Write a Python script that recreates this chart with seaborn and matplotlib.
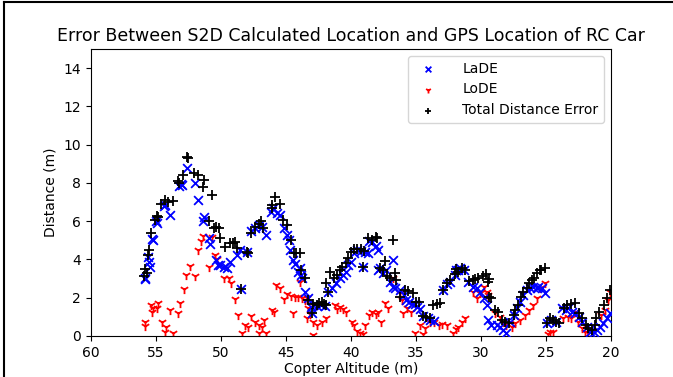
import matplotlib
matplotlib.use("Agg")
import matplotlib.pyplot as plt
from matplotlib.lines import Line2D
import seaborn as sns
import pandas as pd

# ---- data ----
lade_alt = [55.85, 55.8, 55.6, 55.5, 55.45, 55.3, 55.2, 55.0, 54.9, 54.4, 54.3, 53.9, 53.2, 53.1, 53.0,
            52.6, 52.0, 51.75, 51.3, 51.35, 50.9, 50.85, 50.4, 50.2, 50.1, 49.8, 49.55, 49.3, 48.8, 48.5,
            48.45, 48.0, 47.65, 47.4, 47.1, 46.85, 46.5, 46.15, 46.0, 45.7, 45.45, 45.15, 44.95, 44.75,
            44.7, 44.45, 44.3, 44.05, 43.9, 43.85, 43.8, 43.5, 43.3, 43.1, 42.9, 42.6, 42.3, 42.0, 43.0,
            41.75, 41.45, 41.15, 40.85, 40.6, 40.4, 40.2, 40.0, 39.75, 39.5, 39.2, 38.9, 38.7, 39.05,
            38.65, 38.35, 38.1, 37.95, 37.9, 37.8, 37.5, 37.3, 37.0, 36.75, 36.8, 36.6, 36.2, 35.9, 35.8,
            35.55, 35.3, 35.05, 34.9, 34.7, 34.45, 34.1, 33.9, 33.6, 32.9, 32.65, 32.4, 32.0, 31.75,
            31.9, 31.6, 31.3, 31.0, 30.6, 30.3, 30.1, 29.8, 29.55, 29.45, 29.2, 28.8, 28.55, 28.3, 28.05,
            27.8, 27.5, 27.25, 27.0, 26.75, 26.5, 26.25, 26.0, 25.7, 25.6, 25.35, 25.1, 24.95, 24.6,
            24.25, 23.8, 23.5, 23.3, 23.0, 22.8, 22.5, 22.25, 21.85, 21.6, 21.35, 21.1, 20.85, 20.6,
            20.3, 20.05]
lade_err = [3.05, 2.95, 4.15, 3.89, 3.62, 5.05, 5.02, 6.00, 5.90, 6.80, 6.85, 6.33, 7.85, 7.95, 7.90,
            8.76, 7.98, 7.10, 6.24, 6.03, 5.10, 4.79, 3.97, 3.71, 3.71, 3.62, 3.54, 3.89, 4.23, 4.50,
            2.44, 4.41, 5.46, 5.63, 5.80, 5.72, 5.28, 6.50, 6.67, 6.45, 6.33, 5.63, 5.28, 5.02,
            4.50, 3.97, 3.76, 3.36, 3.54, 3.19, 3.01, 2.32, 2.00, 1.50, 1.62, 1.55, 1.62, 1.58, 1.22,
            2.32, 2.49, 2.75, 3.01, 3.19, 3.36, 3.71, 3.89, 4.32, 4.50, 4.46, 4.41, 4.36, 3.62,
            4.97, 4.90, 4.72, 3.45, 4.50, 3.54, 3.28, 3.45, 2.84, 3.97, 2.58, 2.49, 2.40, 2.14, 1.88,
            1.79, 1.66, 1.66, 1.50, 1.40, 1.06, 0.92, 0.84, 0.80, 2.40, 2.70, 2.84, 3.19, 3.45,
            3.45, 3.54, 3.45, 2.84, 2.58, 2.49, 2.32, 1.97, 1.62, 0.84, 0.58, 0.58, 0.49, 0.31, 0.14,
            0.75, 1.10, 1.45, 1.79, 2.14, 2.40, 2.49, 2.58, 2.49, 2.58, 2.49, 2.23, 0.66, 0.84,
            0.75, 1.45, 1.36, 1.45, 1.27, 1.19, 1.01, 0.75, 0.49, 0.23, 0.19, 0.31, 0.49, 0.66,
            0.92, 1.19]

lode_alt = [55.85, 55.8, 55.4, 55.3, 55.2, 54.95, 54.8, 54.55, 54.3, 54.2, 53.9, 53.7, 53.3, 53.15,
            52.85, 52.65, 52.4, 52.0, 51.75, 51.5, 51.4, 50.9, 50.7, 50.3, 50.45, 49.75, 49.4, 49.2,
            48.9, 48.7, 48.4, 48.15, 47.95, 47.7, 47.4, 47.1, 47.05, 46.85, 46.65, 46.5, 46.1, 45.95,
            45.8, 45.45, 45.15, 44.9, 44.6, 44.45, 44.3, 44.05, 43.9, 43.8, 43.55, 43.4, 43.3, 43.15,
            43.35, 42.9, 42.65, 42.25, 41.9, 42.9, 41.25, 41.1, 40.85, 40.6, 40.35, 39.95, 39.8, 39.55,
            39.3, 39.05, 38.9, 38.65, 38.35, 38.1, 37.9, 37.7, 37.4, 37.15, 36.75, 36.25, 36.1, 36.0,
            35.7, 35.35, 35.1, 34.7, 34.45, 34.3, 33.9, 33.65, 33.25, 33.0, 32.65, 32.15, 31.9, 31.75,
            31.5, 31.2, 30.6, 30.3, 30.1, 29.8, 29.55, 29.45, 28.9, 28.55, 28.3, 28.05, 27.65, 27.4,
            27.0, 26.6, 26.3, 26.0, 25.7, 25.45, 25.1, 24.85, 24.7, 24.45, 23.7, 23.3, 23.05, 22.8,
            22.55, 22.25, 22.0, 21.75, 21.5, 20.75, 20.45, 20.2, 20.05]
lode_err = [0.75, 0.52, 1.62, 1.27, 1.45, 1.45, 1.72, 0.75, 0.23, 0.49, 1.33, 0.17, 1.22, 1.74,
            2.44, 3.19, 3.64, 3.14, 4.50, 4.98, 5.23, 3.59, 5.16, 4.01, 4.23, 3.01, 3.01, 2.75,
            1.91, 1.10, 0.17, 0.58, 0.49, 1.05, 0.75, 0.58, 0.17, 0.49, 0.84, 0.17, 1.36, 1.27,
            2.67, 2.49, 1.91, 2.20, 2.09, 1.22, 2.02, 2.05, 2.84, 2.00, 1.88, 1.97, 1.45, 1.13,
            0.96, 0.75, 0.58, 0.75, 0.92, 0.05, 1.62, 1.41, 1.53, 1.41, 1.24, 0.75, 0.58, 0.26,
            0.14, 0.09, 0.58, 1.10, 1.24, 1.13, 1.24, 0.75, 1.71, 1.48, 3.01, 2.23, 1.88, 1.19,
            1.45, 1.24, 0.14, 0.58, 0.09, 0.40, 0.75, 0.75, 0.58, 0.62, 0.58, 0.14, 0.37, 0.49,
            0.75, 0.92, 2.32, 1.97, 2.23, 2.58, 2.32, 2.14, 1.19, 1.01, 0.75, 0.58, 0.49, 0.66,
            0.84, 1.10, 1.36, 1.62, 1.97, 2.49, 2.75, 0.09, 0.19, 0.23, 0.92, 1.01, 0.96, 1.24,
            0.75, 0.40, 0.23, 0.14, 0.31, 1.10, 1.36, 1.88, 2.30]

total_alt = [55.9, 55.85, 55.7, 55.6, 55.5, 55.4, 55.1, 54.95, 54.8, 54.6, 54.3, 54.05, 53.7, 53.3,
             53.2, 52.9, 52.6, 52.5, 52.05, 51.75, 51.4, 51.3, 50.9, 50.7, 50.5, 50.35, 50.15, 50.1,
             49.7, 49.3, 49.05, 48.9, 48.8, 48.45, 48.0, 47.9, 47.7, 47.4, 47.1, 46.9, 46.75, 46.1,
             46.05, 45.85, 45.45, 45.2, 44.95, 44.6, 44.4, 44.2, 43.9, 43.85, 43.5, 43.3, 43.0, 42.9,
             42.65, 42.45, 42.25, 42.05, 41.9, 41.95, 41.8, 41.6, 41.3, 41.1, 40.85, 40.7, 40.4, 40.2,
             40.0, 39.75, 39.5, 39.25, 39.0, 39.05, 38.7, 38.35, 38.1, 38.0, 37.8, 37.5, 37.4, 37.2,
             37.0, 36.75, 36.6, 36.5, 36.2, 35.85, 35.6, 35.2, 35.0, 34.75, 34.45, 34.2, 33.9, 33.7,
             33.4, 33.15, 32.9, 32.65, 32.4, 32.0, 31.8, 31.9, 31.5, 31.2, 30.9, 30.6, 30.45, 30.2,
             29.85, 29.6, 29.5, 29.4, 29.35, 29.25, 28.9, 28.7, 28.4, 28.15, 27.85, 27.5, 27.4, 27.15,
             26.95, 26.8, 26.5, 26.3, 26.1, 25.9, 25.7, 25.5, 25.4, 25.1, 24.95, 24.7, 24.45, 24.2,
             24.0, 23.65, 23.4, 23.05, 22.8, 22.45, 22.2, 21.95, 21.75, 21.5, 21.25, 21.15, 20.9,
             20.55, 20.3, 20.05]
total_err = [3.14, 3.49, 3.28, 4.23, 4.50, 5.37, 6.06, 6.25, 6.20, 6.90, 7.10, 7.00, 7.05, 8.12,
             8.01, 8.42, 9.34, 9.29, 8.54, 8.42, 7.77, 8.15, 6.03, 7.37, 5.63, 5.68, 5.63, 5.10,
             4.63, 4.85, 4.88, 4.93, 4.58, 2.44, 4.41, 4.32, 5.40, 5.72, 5.84, 6.03, 5.63, 6.70,
             6.85, 7.25, 6.90, 6.06, 5.80, 5.00, 4.35, 4.32, 4.32, 3.45, 3.05, 1.88, 1.19, 1.66,
             1.62, 1.71, 1.76, 1.66, 1.59, 2.75, 2.32, 3.36, 3.01, 3.19, 3.45, 3.62, 3.80, 4.09,
             4.41, 4.55, 4.55, 4.55, 4.44, 3.62, 5.10, 5.02, 5.19, 5.10, 3.54, 3.45, 3.92, 3.15,
             3.01, 5.02, 3.28, 2.93, 2.05, 2.40, 2.35, 2.23, 1.76, 1.76, 1.06, 1.01, 0.92, 1.62,
             1.66, 1.71, 2.40, 2.75, 2.93, 3.22, 3.36, 3.50, 3.54, 3.45, 2.88, 2.93, 2.98, 3.05,
             3.15, 3.22, 2.84, 2.98, 2.05, 1.97, 1.36, 1.24, 0.84, 0.75, 0.66, 1.10, 1.36, 1.62,
             2.05, 2.28, 2.49, 2.75, 2.93, 3.05, 3.28, 3.45, 3.45, 3.54, 0.66, 0.92, 0.84, 0.75,
             0.66, 1.45, 1.62, 1.66, 1.71, 1.19, 0.92, 0.58, 0.40, 0.30, 0.58, 0.92, 1.24,
             1.62, 2.00, 2.40]

title = "Error Between S2D Calculated Location and GPS Location of RC Car"
x_label = "Copter Altitude (m)"
y_label = "Distance (m)"
x_ticks = [60, 55, 50, 45, 40, 35, 30, 25, 20]
y_ticks = [0, 2, 4, 6, 8, 10, 12, 14]

plt.rcParams["font.family"] = ["DejaVu Sans"]

fig = plt.figure(figsize=(6.73, 3.77), dpi=100)
ax = fig.add_axes([0.135, 0.109, 0.773, 0.761])

df_la = pd.DataFrame({"alt": lade_alt, "err": lade_err})
df_lo = pd.DataFrame({"alt": lode_alt, "err": lode_err})
df_to = pd.DataFrame({"alt": total_alt, "err": total_err})

sns.scatterplot(data=df_la, x="alt", y="err", ax=ax, marker="x", color="blue",
                s=40, linewidth=1.3, label="LaDE", zorder=3)
sns.scatterplot(data=df_lo, x="alt", y="err", ax=ax, marker="1", color="red",
                s=44, linewidth=1.3, label="LoDE", zorder=2)
sns.scatterplot(data=df_to, x="alt", y="err", ax=ax, marker="+", color="black",
                s=44, linewidth=1.3, label="Total Distance Error", zorder=4)

ax.set_xlim(60, 20)
ax.set_ylim(0, 15)
ax.set_xticks(x_ticks)
ax.set_yticks(y_ticks)
ax.tick_params(labelsize=10)
ax.set_xlabel(x_label, fontsize=10, labelpad=2)
ax.set_ylabel(y_label, fontsize=10)
ax.set_title(title, fontsize=12.5)
ax.legend(loc="upper right", fontsize=10, markerscale=0.65, handletextpad=1.5)

# figure frame (left and top edges visible in the reference)
fig.add_artist(Line2D([0.006, 0.006], [0.0, 0.994], transform=fig.transFigure, color="black", lw=1.5))
fig.add_artist(Line2D([0.006, 1.0], [0.994, 0.994], transform=fig.transFigure, color="black", lw=1.5))

fig.savefig("out.png", dpi=100)
